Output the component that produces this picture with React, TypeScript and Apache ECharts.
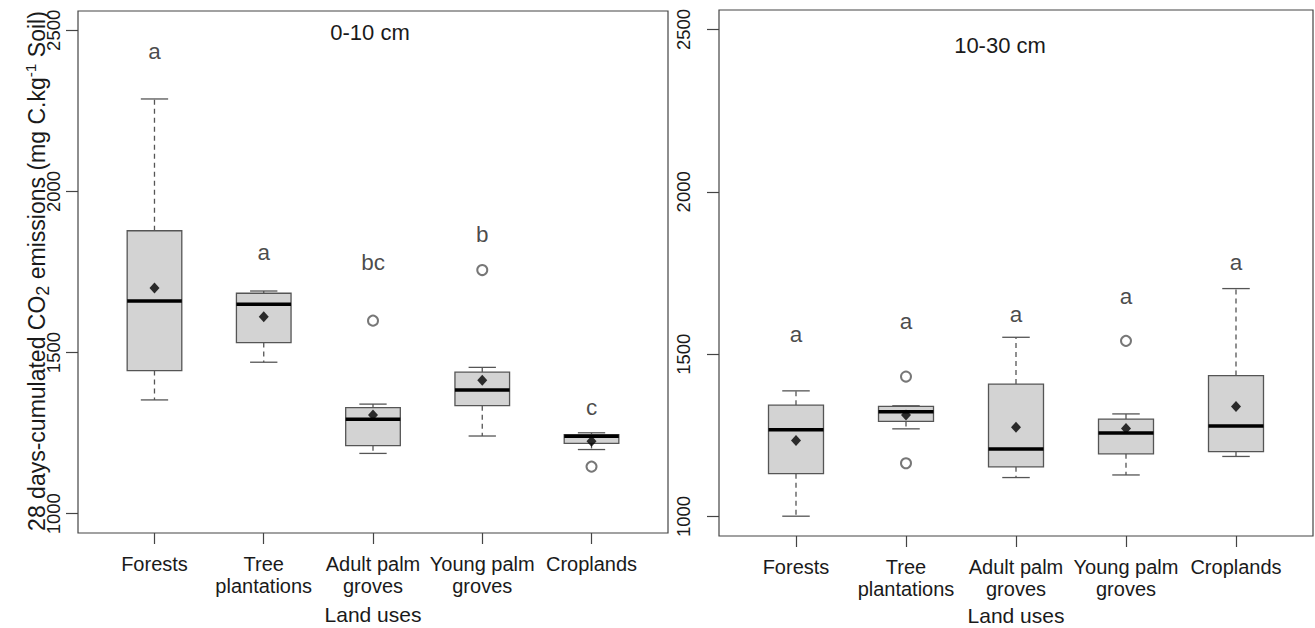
import React, { useEffect, useRef } from "react";
import * as echarts from "echarts";

// ---- data ----
const categories = ["Forests", "Tree\nplantations", "Adult palm\ngroves", "Young palm\ngroves", "Croplands"];
const yTicks = [1000, 1500, 2000, 2500];
const catTicks = [1, 2, 3, 4, 5];

// [lower whisker, Q1, median, Q3, upper whisker]
const box0_10 = [
  [1353, 1444, 1660, 1878, 2287],
  [1470, 1531, 1650, 1684, 1691],
  [1187, 1211, 1293, 1329, 1340],
  [1241, 1335, 1384, 1439, 1454],
  [1199, 1218, 1240, 1245, 1251],
];
const mean0_10 = [1700, 1611, 1306, 1414, 1225];
const outliers0_10 = [[3, 1599], [4, 1756], [5, 1146]];
const letters0_10 = ["a", "a", "bc", "b", "c"];
const letterY0_10 = [2433, 1812, 1778, 1865, 1331];

const box10_30 = [
  [1001, 1132, 1267, 1343, 1387],
  [1270, 1293, 1323, 1339, 1341],
  [1120, 1153, 1208, 1408, 1552],
  [1128, 1193, 1257, 1300, 1316],
  [1185, 1200, 1279, 1434, 1702],
];
const mean10_30 = [1234, 1313, 1275, 1271, 1339];
const outliers10_30 = [[2, 1431], [2, 1164], [4, 1541]];
const letters10_30 = ["a", "a", "a", "a", "a"];
const letterY10_30 = [1560, 1600, 1621, 1678, 1782];

const FONT = "'Liberation Sans', Arial, Helvetica, sans-serif";
const TXT = "#1a1a1a";

function renderBox(params: any, api: any) {
  const x = api.value(0);
  const vals = [1, 2, 3, 4, 5].map((i) => api.value(i));
  const pts = vals.map((v) => api.coord([x, v]));
  const cx = pts[0][0];
  const w = api.size([0.5, 0])[0];
  const hw = w / 2;
  const cw = w / 4;
  const [pMin, pQ1, pMed, pQ3, pMax] = pts.map((p: number[]) => p[1]);
  const wh = { stroke: "#555", lineWidth: 1.3, lineDash: [5, 4] };
  const cap = { stroke: "#555", lineWidth: 1.3 };
  return {
    type: "group",
    children: [
      { type: "line", shape: { x1: cx, y1: pQ3, x2: cx, y2: pMax }, style: wh },
      { type: "line", shape: { x1: cx, y1: pQ1, x2: cx, y2: pMin }, style: wh },
      { type: "line", shape: { x1: cx - cw, y1: pMax, x2: cx + cw, y2: pMax }, style: cap },
      { type: "line", shape: { x1: cx - cw, y1: pMin, x2: cx + cw, y2: pMin }, style: cap },
      {
        type: "rect",
        shape: { x: cx - hw, y: pQ3, width: w, height: pQ1 - pQ3 },
        style: { fill: "#d3d3d3", stroke: "#555", lineWidth: 1.3 },
      },
      { type: "line", shape: { x1: cx - hw, y1: pMed, x2: cx + hw, y2: pMed }, style: { stroke: "#000", lineWidth: 3.5 } },
    ],
  };
}

function makeX(gridIndex: number, nameGap: number) {
  return {
    type: "value",
    gridIndex,
    min: 0.3,
    max: 5.7,
    name: "Land uses",
    nameLocation: "middle",
    nameGap,
    nameTextStyle: { fontSize: 21, color: TXT, fontFamily: FONT },
    axisLine: { show: false },
    splitLine: { show: false },
    axisTick: { show: true, customValues: catTicks, length: 11, lineStyle: { color: "#444", width: 1.2 } },
    axisLabel: {
      show: true,
      customValues: catTicks,
      formatter: (v: number) => categories[Math.round(v) - 1] ?? "",
      margin: 20,
      fontSize: 20,
      lineHeight: 22,
      color: TXT,
      fontFamily: FONT,
    },
  };
}

function makeY(gridIndex: number, margin: number) {
  return {
    type: "value",
    gridIndex,
    min: 940,
    max: 2560,
    axisLine: { show: false },
    splitLine: { show: false },
    axisTick: { show: true, customValues: yTicks, length: 12, lineStyle: { color: "#444", width: 1.2 } },
    axisLabel: {
      show: true,
      customValues: yTicks,
      formatter: (v: number) => String(v),
      rotate: 90,
      margin,
      fontSize: 18.5,
      color: TXT,
      fontFamily: FONT,
    },
  };
}

function panelSeries(idx: number, boxes: number[][], means: number[], outs: number[][], letters: string[], letterY: number[]) {
  return [
    {
      type: "custom",
      xAxisIndex: idx,
      yAxisIndex: idx,
      renderItem: renderBox,
      encode: { x: 0, y: [1, 2, 3, 4, 5] },
      data: boxes.map((b, i) => [i + 1, ...b]),
      clip: false,
      silent: true,
      z: 2,
    },
    {
      type: "scatter",
      xAxisIndex: idx,
      yAxisIndex: idx,
      symbol: "emptyCircle",
      symbolSize: 10,
      itemStyle: { color: "#555", borderColor: "#555", borderWidth: 1.1 },
      data: outs,
      silent: true,
      z: 3,
    },
    {
      type: "scatter",
      xAxisIndex: idx,
      yAxisIndex: idx,
      symbol: "diamond",
      symbolSize: [10, 11],
      itemStyle: { color: "#000" },
      data: means.map((m, i) => [i + 1, m]),
      silent: true,
      z: 4,
    },
    {
      type: "scatter",
      xAxisIndex: idx,
      yAxisIndex: idx,
      symbol: "circle",
      symbolSize: 1,
      itemStyle: { color: "rgba(0,0,0,0)" },
      data: letterY.map((v, i) => [i + 1, v]),
      label: {
        show: true,
        position: "inside",
        formatter: (p: any) => letters[p.dataIndex],
        fontSize: 22.5,
        color: TXT,
        fontFamily: FONT,
      },
      silent: true,
      z: 5,
    },
  ];
}

export default function App() {
  const ref = useRef<HTMLDivElement>(null);
  useEffect(() => {
    if (!ref.current) return;
    const chart = echarts.init(ref.current, null, { renderer: "svg" });
    chart.setOption({
      animation: false,
      backgroundColor: "#fff",
      textStyle: { fontFamily: FONT },
      grid: [
        { left: 78, right: 647, top: 11, bottom: 95, show: true, borderColor: "#444", borderWidth: 1.2, backgroundColor: "transparent", containLabel: false, outerBoundsMode: "none" },
        { left: 719, right: 2, top: 10, bottom: 92, show: true, borderColor: "#444", borderWidth: 1.2, backgroundColor: "transparent", containLabel: false, outerBoundsMode: "none" },
      ],
      xAxis: [makeX(0, 71), makeX(1, 68)],
      yAxis: [makeY(0, 15), makeY(1, 26)],
      graphic: [
        {
          type: "text",
          x: 37,
          y: 271,
          rotation: Math.PI / 2,
          style: {
            text: "{n|28 days-cumulated CO}{sub|2}{n| emissions (mg C.kg}{sup|-1}{n| Soil)}",
            align: "center",
            verticalAlign: "middle",
            textAlign: "center",
            textVerticalAlign: "middle",
            fontFamily: FONT,
            fontSize: 23,
            fill: TXT,
            rich: {
              n: { fontSize: 23, lineHeight: 30, fill: TXT, fontFamily: FONT, verticalAlign: "middle" },
              sub: { fontSize: 18, lineHeight: 18, fill: TXT, fontFamily: FONT, verticalAlign: "bottom" },
              sup: { fontSize: 15.5, lineHeight: 15, fill: TXT, fontFamily: FONT, verticalAlign: "top" },
            },
          },
        },
        {
          type: "text",
          x: 370,
          y: 32,
          style: { text: "0-10 cm", align: "center", verticalAlign: "middle", textAlign: "center", textVerticalAlign: "middle", fontSize: 22, fontFamily: FONT, fill: TXT },
        },
        {
          type: "text",
          x: 1000,
          y: 45,
          style: { text: "10-30 cm", align: "center", verticalAlign: "middle", textAlign: "center", textVerticalAlign: "middle", fontSize: 22, fontFamily: FONT, fill: TXT },
        },
      ],
      series: [
        ...panelSeries(0, box0_10, mean0_10, outliers0_10, letters0_10, letterY0_10),
        ...panelSeries(1, box10_30, mean10_30, outliers10_30, letters10_30, letterY10_30),
      ],
    });
    return () => chart.dispose();
  }, []);
  return <div ref={ref} style={{ position: "absolute", left: 0, top: 0, width: 1315, height: 628 }} />;
}
